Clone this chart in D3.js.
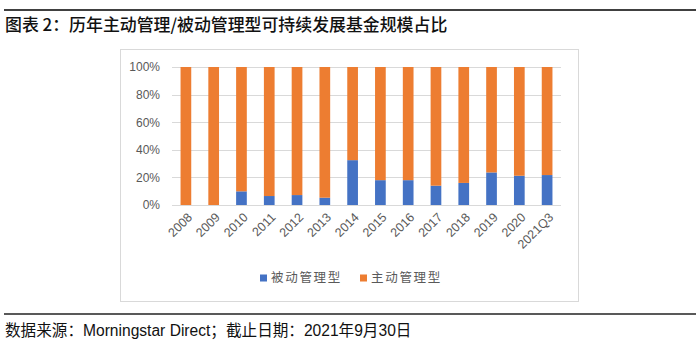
<!DOCTYPE html>
<html>
<head>
<meta charset="utf-8">
<script src="https://cdn.jsdelivr.net/npm/d3@7"></script>
<style>
  body { margin: 0; background: #fff; }
  text { font-family: "Liberation Sans", Arial, "Noto Sans CJK SC", sans-serif; }
</style>
</head>
<body>
<div id="chart"></div>
<script>
// data
const years = ["2008", "2009", "2010", "2011", "2012", "2013", "2014", "2015", "2016", "2017", "2018", "2019", "2020", "2021Q3"];
const passive = [0, 0, 9.9, 6.5, 7.2, 5.3, 32.5, 18, 18, 14, 16, 23.6, 21.2, 21.7];
const active = passive.map(d => 100 - d);
const yTicks = [0, 20, 40, 60, 80, 100];
const seriesNames = ["被动管理型", "主动管理型"];
const colors = ["#4472C4", "#ED7D31"];

const width = 700, height = 352;

const svg = d3.select("#chart")
    .append("svg")
    .attr("width", width)
    .attr("height", height);

// top rule + title
svg.append("line")
    .attr("x1", 4).attr("x2", 696)
    .attr("y1", 10).attr("y2", 10)
    .attr("stroke", "#404040")
    .attr("stroke-width", 2);

svg.append("text")
    .attr("x", 5)
    .attr("y", 31)
    .style("font-family", "'Noto Sans CJK SC', sans-serif")
    .style("font-size", "16.9px")
    .style("font-weight", 500)
    .attr("fill", "#111")
    .text("图表 2：历年主动管理/被动管理型可持续发展基金规模占比");

// chart frame
svg.append("rect")
    .attr("x", 120.5).attr("y", 49.5)
    .attr("width", 458).attr("height", 252)
    .attr("fill", "none")
    .attr("stroke", "#d9d9d9");

const plot = { left: 172, right: 561, top: 67, bottom: 205 };

const x = d3.scaleBand()
    .domain(years)
    .range([plot.left, plot.right])
    .paddingInner(0.615)
    .paddingOuter(0.3075);

const y = d3.scaleLinear()
    .domain([0, 100])
    .range([plot.bottom, plot.top]);

// gridlines
svg.append("g")
    .selectAll("line")
    .data(yTicks)
    .join("line")
    .attr("x1", plot.left).attr("x2", plot.right)
    .attr("y1", d => Math.round(y(d)) + 0.5)
    .attr("y2", d => Math.round(y(d)) + 0.5)
    .attr("stroke", "#d9d9d9");

// y axis labels
const yAxis = d3.axisLeft(y)
    .tickValues(yTicks)
    .tickFormat(d => d + "%")
    .tickSize(0)
    .tickPadding(12);

svg.append("g")
    .attr("transform", `translate(${plot.left},0)`)
    .call(yAxis)
    .call(g => g.select(".domain").remove())
    .call(g => g.selectAll("text")
        .attr("fill", "#595959")
        .style("font-size", "12px"));

// stacked bars
const stackData = years.map((yr, i) => ({ year: yr, p: passive[i], a: active[i] }));
const stack = d3.stack().keys(["p", "a"])(stackData);

svg.append("g")
    .selectAll("g")
    .data(stack)
    .join("g")
    .attr("fill", (d, i) => colors[i])
    .selectAll("rect")
    .data(d => d)
    .join("rect")
    .attr("x", d => x(d.data.year))
    .attr("width", x.bandwidth())
    .attr("y", d => y(d[1]))
    .attr("height", d => y(d[0]) - y(d[1]));

// x axis labels rotated
const xAxis = d3.axisBottom(x)
    .tickSize(0)
    .tickPadding(0);

svg.append("g")
    .attr("transform", `translate(0,${plot.bottom})`)
    .call(xAxis)
    .call(g => g.select(".domain").remove())
    .call(g => g.selectAll("text")
        .attr("fill", "#595959")
        .style("font-size", "12.5px")
        .attr("text-anchor", "end")
        .attr("dy", "0.35em")
        .attr("transform", "translate(4,10) rotate(-45)"));

// legend
const legendX = [260, 360];
const legend = svg.append("g")
    .selectAll("g")
    .data(seriesNames)
    .join("g")
    .attr("transform", (d, i) => `translate(${legendX[i]},278)`);

legend.append("rect")
    .attr("x", 0).attr("y", -3.5)
    .attr("width", 7).attr("height", 7)
    .attr("fill", (d, i) => colors[i]);

legend.append("text")
    .attr("x", 11)
    .attr("y", 0)
    .attr("dy", "0.35em")
    .style("font-family", "'Noto Sans CJK SC', sans-serif")
    .style("font-size", "12.5px")
    .style("letter-spacing", "1.7px")
    .attr("fill", "#595959")
    .text(d => d);

// bottom rule + source
svg.append("line")
    .attr("x1", 4).attr("x2", 696)
    .attr("y1", 314).attr("y2", 314)
    .attr("stroke", "#222")
    .attr("stroke-width", 1.5);

svg.append("text")
    .attr("x", 5)
    .attr("y", 336)
    .style("font-size", "15.6px")
    .attr("fill", "#111")
    .text("数据来源：Morningstar Direct；截止日期：2021年9月30日");
</script>
</body>
</html>
